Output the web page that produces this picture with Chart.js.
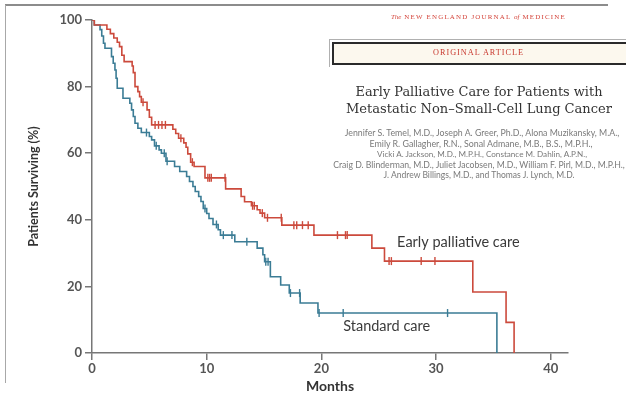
<!DOCTYPE html>
<html><head><meta charset="utf-8">
<script src="https://cdn.jsdelivr.net/npm/chart.js@4/dist/chart.umd.min.js"></script>
<style>
html,body{margin:0;padding:0;background:#fff;}
#wrap{position:relative;width:626px;height:395px;overflow:hidden;background:#fff;}
#c{position:absolute;left:0;top:0;}
.abs{position:absolute;white-space:nowrap;}
.ctr{text-align:center;}
</style></head><body>
<div id="wrap">
<canvas id="c" width="626" height="395"></canvas>
<div class="abs" style="left:5px;top:4px;width:603px;height:2px;background:#8c8c8c"></div>
<div class="abs" style="left:5px;top:5px;width:1px;height:378px;background:#a8a8a8"></div>
<div class="abs fit" data-w="175" style="left:391px;top:12px;font-family:'Liberation Serif',serif;font-size:7px;letter-spacing:1.2px;color:#d4443a;line-height:11px">
<span style="font-style:italic;letter-spacing:0">The</span> NEW ENGLAND JOURNAL <i style="letter-spacing:0">of</i> MEDICINE</div>
<div class="abs" style="left:329px;top:39px;width:300px;height:27px;border-top:1px solid #b0b0b0;border-left:1px solid #b0b0b0"></div>
<div class="abs" style="left:332px;top:42px;width:300px;height:19px;border:2px solid #2a2a2a;background:#fcf8ee"></div>
<div class="abs fit" data-w="91" style="left:433px;top:47px;font-family:'Liberation Serif',serif;font-size:10px;letter-spacing:1px;color:#c8372d;line-height:12px">ORIGINAL ARTICLE</div>
<div class="abs fit" data-w="247" data-c="479" style="top:81px;font-family:'DejaVu Serif',serif;font-size:16px;color:#333;line-height:22px">Early Palliative Care for Patients with</div>
<div class="abs fit" data-w="266" data-c="479" style="top:98px;font-family:'DejaVu Serif',serif;font-size:16px;color:#333;line-height:22px">Metastatic Non–Small-Cell Lung Cancer</div>
<div class="abs fit" data-w="275" data-c="482" style="top:126px;font-family:Lato,sans-serif;font-size:9px;color:#7a7a7a;line-height:13px">Jennifer S. Temel, M.D., Joseph A. Greer, Ph.D., Alona Muzikansky, M.A.,</div>
<div class="abs fit" data-w="223" data-c="481" style="top:137px;font-family:Lato,sans-serif;font-size:9px;color:#7a7a7a;line-height:13px">Emily R. Gallagher, R.N., Sonal Admane, M.B., B.S., M.P.H.,</div>
<div class="abs fit" data-w="210" data-c="482" style="top:148px;font-family:Lato,sans-serif;font-size:9px;color:#7a7a7a;line-height:13px">Vicki A. Jackson, M.D., M.P.H., Constance M. Dahlin, A.P.N.,</div>
<div class="abs fit" data-w="292" data-c="479" style="top:158px;font-family:Lato,sans-serif;font-size:9px;color:#7a7a7a;line-height:13px">Craig D. Blinderman, M.D., Juliet Jacobsen, M.D., William F. Pirl, M.D., M.P.H.,</div>
<div class="abs fit" data-w="191" data-c="479" style="top:169px;font-family:Lato,sans-serif;font-size:9px;color:#7a7a7a;line-height:13px">J. Andrew Billings, M.D., and Thomas J. Lynch, M.D.</div>
</div>
<script>
// ---- data ----
const seriesLabels = ['Early palliative care', 'Standard care'];
const xTicks = [0, 10, 20, 30, 40];
const yTicks = [0, 20, 40, 60, 80, 100];

const palliativeMonths   = [0, 0.2, 1.3, 1.6, 1.9, 2.2, 2.4, 2.6, 2.8, 3.5, 3.6, 3.75, 4.0, 4.15, 4.3, 4.8, 5.0, 5.2, 7.05, 7.3, 7.55, 8.0, 8.2, 8.35, 8.6, 8.9, 9.85, 11.65, 13.0, 13.3, 13.9, 14.4, 14.65, 15.05, 16.55, 19.35, 24.4, 25.5, 33.2, 36.1, 36.8];
const palliativeSurvival = [100, 98.5, 97.2, 95.9, 94.6, 93.3, 92.0, 89.4, 87.5, 86.2, 84.2, 80.0, 78.5, 77.0, 75.3, 73.0, 70.8, 68.5, 67.2, 65.9, 64.5, 63.1, 61.8, 59.8, 57.3, 56.0, 52.6, 49.3, 47.0, 45.4, 44.2, 43.0, 42.0, 40.6, 38.4, 35.4, 31.5, 27.6, 18.3, 9.2, 0];
const palliativeCensorMonths   = [4.45, 5.5, 5.8, 6.1, 6.4, 7.75, 8.75, 10.1, 10.25, 10.4, 11.6, 14.0, 14.15, 14.85, 15.3, 16.5, 17.6, 17.85, 18.35, 18.85, 21.4, 22.1, 22.25, 25.9, 26.1, 28.7, 29.9];
const palliativeCensorSurvival = [75.3, 68.5, 68.5, 68.5, 68.5, 64.5, 57.3, 52.6, 52.6, 52.6, 52.6, 44.2, 44.2, 42.0, 40.6, 40.6, 38.4, 38.4, 38.4, 38.4, 35.4, 35.4, 35.4, 27.6, 27.6, 27.6, 27.6];

const standardMonths   = [0, 0.2, 0.7, 0.85, 1.0, 1.13, 1.7, 1.85, 2.0, 2.1, 2.2, 2.7, 3.3, 3.45, 3.6, 3.75, 4.0, 4.3, 5.0, 5.2, 5.45, 5.85, 6.05, 6.45, 7.2, 7.65, 8.25, 8.5, 8.8, 9.0, 9.3, 9.5, 9.7, 10.0, 10.2, 10.55, 11.0, 11.2, 12.45, 14.4, 14.9, 15.05, 15.55, 16.45, 17.2, 18.15, 19.7, 35.3];
const standardSurvival = [100, 98.5, 97.1, 95.2, 93.0, 91.5, 89.0, 87.0, 85.0, 82.5, 79.5, 76.5, 75.0, 73.0, 71.0, 69.0, 67.5, 66.2, 65.0, 64.0, 62.2, 61.0, 60.0, 57.6, 56.0, 54.5, 53.0, 51.5, 50.0, 48.5, 47.0, 45.5, 43.4, 41.9, 40.4, 38.6, 37.0, 35.4, 33.4, 31.5, 29.5, 27.4, 22.9, 20.4, 18.0, 15.0, 12.0, 0];
const standardCensorMonths   = [4.75, 5.6, 6.3, 6.55, 9.85, 10.85, 11.45, 12.2, 13.5, 15.15, 15.35, 17.3, 18.1, 19.8, 21.9, 31.0];
const standardCensorSurvival = [66.2, 62.2, 60.0, 57.6, 43.4, 38.6, 35.4, 35.4, 33.4, 27.4, 27.4, 18.0, 18.0, 12.0, 12.0, 12.0];

// ---- fit header text ----
document.querySelectorAll('.fit').forEach(el => {
  const target = parseFloat(el.dataset.w);
  for (let k = 0; k < 3; k++) {
    const w = el.getBoundingClientRect().width;
    const fs = parseFloat(getComputedStyle(el).fontSize);
    el.style.fontSize = (fs * target / w).toFixed(3) + 'px';
  }
  if (el.dataset.c) {
    const w = el.getBoundingClientRect().width;
    el.style.left = (parseFloat(el.dataset.c) - w / 2) + 'px';
  }
});

const RED = '#cc4a3c', BLUE = '#3b7c95';
const pts = (xs, ys) => xs.map((x, i) => ({x, y: ys[i]}));

const labelPlugin = {
  id: 'curveLabels',
  afterDatasetsDraw(chart) {
    const {ctx, scales: {x, y}} = chart;
    ctx.save();
    ctx.font = '14.5px Lato, sans-serif';
    ctx.fillStyle = '#3a3a3a';
    ctx.textBaseline = 'middle';
    ctx.textAlign = 'left';
    ctx.fillText(seriesLabels[0], x.getPixelForValue(26.6), y.getPixelForValue(33.3));
    ctx.fillText(seriesLabels[1], x.getPixelForValue(21.9), y.getPixelForValue(8.1));
    ctx.restore();
  }
};

const axisFont = {family: 'Lato, sans-serif', size: 13, weight: 'bold'};

new Chart(document.getElementById('c'), {
  type: 'scatter',
  data: {
    datasets: [
      {label: seriesLabels[0], data: pts(palliativeMonths, palliativeSurvival), showLine: true, stepped: 'before', borderColor: RED, borderWidth: 1.6, pointRadius: 0, fill: false},
      {label: seriesLabels[1], data: pts(standardMonths, standardSurvival), showLine: true, stepped: 'before', borderColor: BLUE, borderWidth: 1.6, pointRadius: 0, fill: false},
      {label: 'censored-p', data: pts(palliativeCensorMonths, palliativeCensorSurvival), showLine: false, pointStyle: 'line', rotation: 90, pointRadius: 4, borderColor: RED, borderWidth: 1.4},
      {label: 'censored-s', data: pts(standardCensorMonths, standardCensorSurvival), showLine: false, pointStyle: 'line', rotation: 90, pointRadius: 4, borderColor: BLUE, borderWidth: 1.4}
    ]
  },
  options: {
    responsive: false,
    animation: false,
    layout: {padding: {top: 20, right: 58, bottom: 0, left: 0}},
    plugins: {legend: {display: false}, tooltip: {enabled: false}},
    scales: {
      x: {
        type: 'linear', min: 0, max: 41.5,
        afterBuildTicks: s => { s.ticks = xTicks.map(v => ({value: v})); },
        afterFit: s => { s.height = 42; },
        grid: {display: true, drawOnChartArea: false, drawTicks: true, tickLength: 7, color: '#777', lineWidth: 1.5},
        border: {display: true, color: '#777', width: 1.5},
        ticks: {color: '#555', font: axisFont, padding: 1, maxRotation: 0, autoSkip: false},
        title: {display: true, text: 'Months', color: '#333', font: {family: 'Lato, sans-serif', size: 14, weight: 'bold'}, padding: {top: 0, bottom: 0}}
      },
      y: {
        type: 'linear', min: 0, max: 100,
        afterBuildTicks: s => { s.ticks = yTicks.map(v => ({value: v})); },
        afterFit: s => { s.width = 92; },
        grid: {display: true, drawOnChartArea: false, drawTicks: true, tickLength: 7, color: '#777', lineWidth: 1.5},
        border: {display: true, color: '#777', width: 1.5},
        ticks: {color: '#555', font: axisFont, padding: 3, autoSkip: false},
        title: {display: true, text: 'Patients Surviving (%)', color: '#333', font: {family: 'Lato, sans-serif', size: 12.5, weight: 'bold'}, padding: {top: 26, bottom: 0}}
      }
    }
  },
  plugins: [labelPlugin]
});
</script>
</body></html>
